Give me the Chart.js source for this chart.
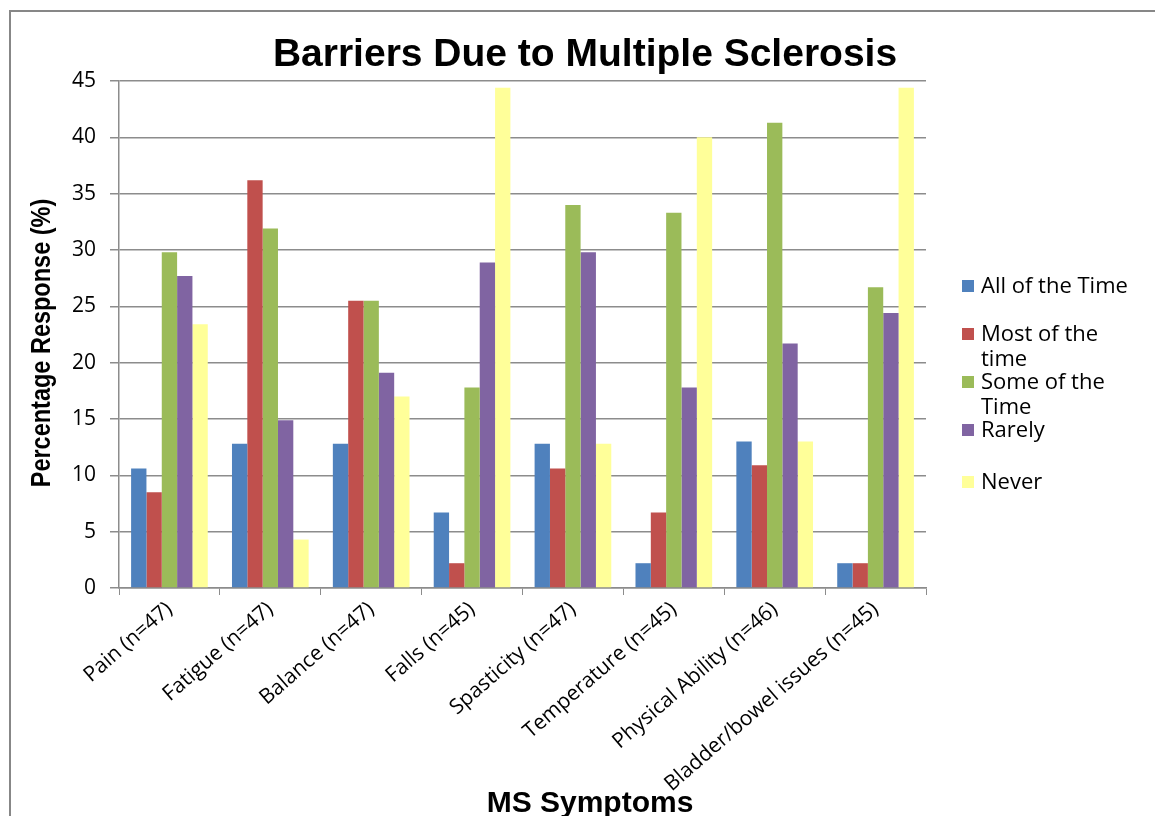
<!DOCTYPE html>
<html>
<head>
<meta charset="utf-8">
<script src="https://cdn.jsdelivr.net/npm/chart.js@4.4.1/dist/chart.umd.min.js"></script>
<style>
  html, body { margin: 0; padding: 0; background: #ffffff; }
  #wrap { width: 1155px; height: 816px; position: relative; }
</style>
</head>
<body>
<div id="wrap"><canvas id="chart" width="1155" height="816"></canvas></div>
<script>
// Symptom categories (x axis)
const categories = [
  'Pain (n=47)', 'Fatigue (n=47)', 'Balance (n=47)', 'Falls (n=45)',
  'Spasticity (n=47)', 'Temperature (n=45)', 'Physical Ability (n=46)',
  'Bladder/bowel issues (n=45)'
];

// Percentage of respondents per frequency answer
const allOfTheTime  = [10.6, 12.8, 12.8, 6.7, 12.8, 2.2, 13.0, 2.2];
const mostOfTheTime = [8.5, 36.2, 25.5, 2.2, 10.6, 6.7, 10.9, 2.2];
const someOfTheTime = [29.8, 31.9, 25.5, 17.8, 34.0, 33.3, 41.3, 26.7];
const rarely        = [27.7, 14.9, 19.1, 28.9, 29.8, 17.8, 21.7, 24.4];
const never         = [23.4, 4.3, 17.0, 44.4, 12.8, 40.0, 13.0, 44.4];

// Legend labels (wrapped as lines)
const seriesLabels = [
  ['All of the Time'],
  ['Most of the', 'time'],
  ['Some of the', 'Time'],
  ['Rarely'],
  ['Never']
];

// Y axis tick values
const yTicks = [0, 5, 10, 15, 20, 25, 30, 35, 40, 45];

const colors = ['#4F81BD', '#C0504D', '#9BBB59', '#8064A2', '#FFFF99'];
const seriesValues = [allOfTheTime, mostOfTheTime, someOfTheTime, rarely, never];

const gridColor = '#8c8c8c';
const bodyFont = "'Open Sans', 'DejaVu Sans', sans-serif";
const boldFont = "'Liberation Sans', 'DejaVu Sans', sans-serif";

// Frame, titles and wrapped legend drawn on the canvas
const decorations = {
  id: 'decorations',
  afterDraw(chart) {
    const ctx = chart.ctx;
    const area = chart.chartArea;
    ctx.save();

    // outer frame
    ctx.strokeStyle = '#878787';
    ctx.lineWidth = 2;
    ctx.strokeRect(10, 11, 1300, 1000);

    ctx.fillStyle = '#000000';
    // main title
    ctx.font = "bold 39px " + boldFont;
    ctx.textAlign = 'center';
    ctx.textBaseline = 'alphabetic';
    ctx.fillText('Barriers Due to Multiple Sclerosis', 585, 66);

    // x axis title
    ctx.font = "bold 30px " + boldFont;
    ctx.fillText('MS Symptoms', 590, 812);

    // y axis title (slightly condensed)
    ctx.save();
    ctx.translate(43, 343);
    ctx.rotate(-Math.PI / 2);
    ctx.scale(0.87, 1);
    ctx.font = "bold 27px " + boldFont;
    ctx.textBaseline = 'middle';
    ctx.fillText('Percentage Response (%)', 0, 0);
    ctx.restore();

    // legend
    const rows = [286, 334, 382, 430, 482];
    ctx.font = "22px " + bodyFont;
    ctx.textAlign = 'left';
    ctx.textBaseline = 'middle';
    chart.data.datasets.forEach((ds, i) => {
      const cy = rows[i];
      ctx.fillStyle = ds.backgroundColor;
      ctx.fillRect(962, cy - 6, 12, 12);
      ctx.fillStyle = '#000000';
      seriesLabels[i].forEach((line, k) => {
        ctx.fillText(line, 981, cy + 1 + k * 25);
      });
    });
    ctx.restore();
  }
};

new Chart(document.getElementById('chart'), {
  type: 'bar',
  data: {
    labels: categories,
    datasets: seriesValues.map((vals, i) => ({
      label: seriesLabels[i].join(' '),
      data: vals,
      backgroundColor: colors[i],
      borderWidth: 0,
      categoryPercentage: 0.76,
      barPercentage: 1.0
    }))
  },
  options: {
    responsive: false,
    animation: false,
    devicePixelRatio: 1,
    layout: { padding: { left: 10, right: 229, top: 81, bottom: 0 } },
    plugins: {
      legend: { display: false },
      title: { display: false },
      tooltip: { enabled: false }
    },
    scales: {
      x: {
        offset: true,
        grid: {
          display: true,
          offset: true,
          drawOnChartArea: false,
          drawTicks: true,
          tickLength: 7,
          color: gridColor,
          lineWidth: 1
        },
        border: { display: true, color: gridColor, width: 1.5 },
        ticks: {
          color: '#000000',
          font: { family: bodyFont, size: 21 },
          maxRotation: 41,
          minRotation: 41,
          padding: 2,
          autoSkip: false
        },
        afterFit(scale) { scale.height = 228; }
      },
      y: {
        min: 0,
        max: 45,
        afterBuildTicks(scale) { scale.ticks = yTicks.map(v => ({ value: v })); },
        grid: {
          color: gridColor,
          lineWidth: 1.5,
          drawTicks: true,
          tickLength: 9
        },
        border: { display: true, color: gridColor, width: 1.5 },
        ticks: {
          color: '#000000',
          font: { family: bodyFont, size: 21 },
          padding: 14
        },
        afterFit(scale) { scale.width = 109; }
      }
    }
  },
  plugins: [decorations]
});
</script>
</body>
</html>
